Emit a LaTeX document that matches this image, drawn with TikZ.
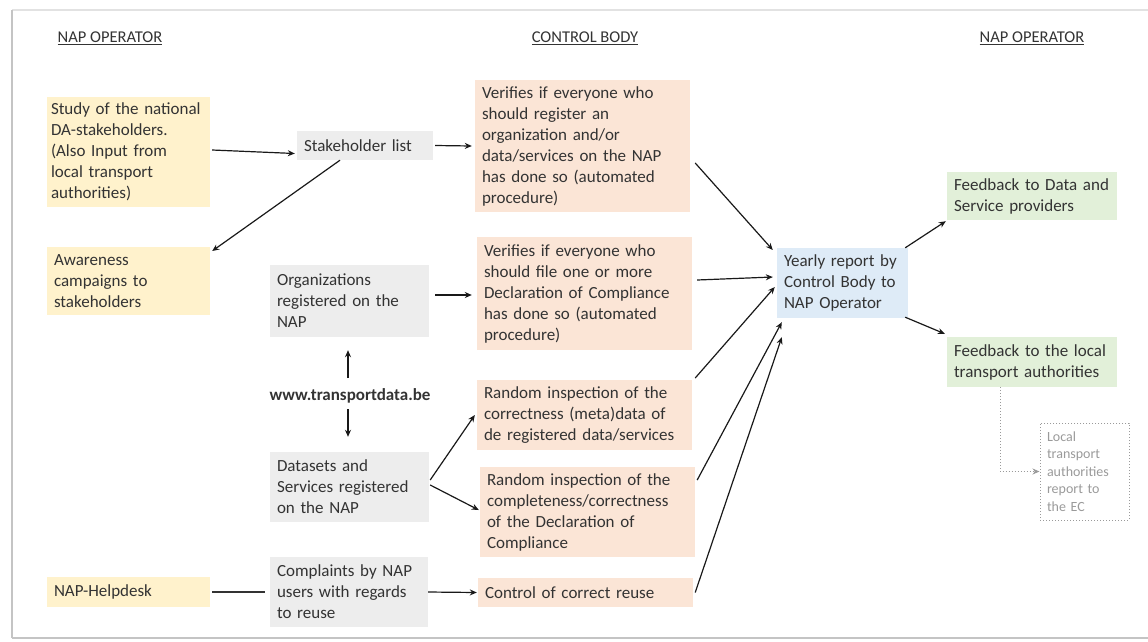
\documentclass[tikz,border=0pt]{standalone}
\usepackage{fontspec}
\setmainfont{Carlito}
\usetikzlibrary{arrows.meta}
\definecolor{yfill}{HTML}{FFF2CC}
\definecolor{ofill}{HTML}{FBE5D6}
\definecolor{gfill}{HTML}{EDEDED}
\definecolor{bfill}{HTML}{DEEBF7}
\definecolor{grfill}{HTML}{E2F0D9}
\definecolor{txt}{HTML}{333333}
\definecolor{frameA}{HTML}{C4C4C4}
\definecolor{frameB}{HTML}{E2E2E2}
\definecolor{lgrey}{HTML}{9A9A9A}
\tikzset{
  box/.style={rectangle, inner xsep=7pt, inner ysep=0pt, align=left, text=txt,
    font=\fontsize{17}{21}\selectfont},
  ybox/.style={box, fill=yfill},
  obox/.style={box, fill=ofill},
  gbox/.style={box, fill=gfill},
  bbox/.style={box, fill=bfill},
  grbox/.style={box, fill=grfill},
  hdr/.style={text=txt, font=\fontsize{16.5}{20}\selectfont},
  arr/.style={draw=black!90, line width=1.2pt, -{Stealth[length=7pt,width=6pt]}},
  plainline/.style={draw=black!80, line width=1.2pt},
  dotline/.style={draw=lgrey, line width=1pt, dotted, -{Stealth[length=7pt,width=6pt]}},
}
\begin{document}
\begin{tikzpicture}[x=1pt,y=-1pt]
\useasboundingbox (0,0) rectangle (1148,641);
% frame
\draw[frameB, line width=1.2pt] (12,10) -- (1148,10);
\draw[frameA, line width=2.5pt] (12,10) -- (12,638);
\draw[frameA, line width=1.5pt] (12,638) -- (1148,638);
% headers
\node[hdr] (h1) at (110,38) {\underline{NAP OPERATOR}};
\node[hdr] (h2) at (585,38) {\underline{CONTROL BODY}};
\node[hdr] (h3) at (1032,38) {\underline{NAP OPERATOR}};
% left column
\node[ybox, inner xsep=4pt, minimum width=163pt, minimum height=110pt, text width=155pt] (study) at (128.5,152)
  {Study of the national\\DA-stakeholders.\\(Also Input from\\local transport\\authorities)};
\node[ybox, minimum width=163pt, minimum height=68pt, text width=149pt] (aware) at (128.5,281)
  {Awareness\\campaigns to\\stakeholders};
\node[ybox, minimum width=163pt, minimum height=30pt, text width=149pt] (help) at (128.5,592)
  {NAP-Helpdesk};
% second column
\node[gbox, minimum width=136pt, minimum height=29pt, text width=122pt] (stake) at (365,145.5)
  {Stakeholder list};
\node[gbox, minimum width=159pt, minimum height=72pt, text width=145pt] (org) at (349.5,301)
  {Organizations\\registered on the\\NAP};
\node[text=txt, font=\fontsize{17}{21}\selectfont\bfseries, inner sep=0pt] (www) at (350,396)
  {www.transportdata.be};
\node[gbox, minimum width=159pt, minimum height=70pt, text width=145pt] (data) at (349.5,487)
  {Datasets and\\Services registered\\on the NAP};
\node[gbox, minimum width=158pt, minimum height=70pt, text width=144pt] (compl) at (349,592)
  {Complaints by NAP\\users with regards\\to reuse};
% control body column
\node[obox, minimum width=215pt, minimum height=132pt, text width=201pt] (v1) at (582.5,146)
  {Verifies if everyone who\\should register an\\organization and/or\\data/services on the NAP\\has done so (automated\\procedure)};
\node[obox, minimum width=215pt, minimum height=113pt, text width=201pt] (v2) at (584.5,293.5)
  {Verifies if everyone who\\should file one or more\\Declaration of Compliance\\has done so (automated\\procedure)};
\node[obox, minimum width=215pt, minimum height=70pt, text width=201pt] (r1) at (584.5,415)
  {Random inspection of the\\correctness (meta)data of\\de registered data/services};
\node[obox, minimum width=215pt, minimum height=90pt, text width=201pt] (r2) at (587.5,512)
  {Random inspection of the\\completeness/correctness\\of the Declaration of\\Compliance};
\node[obox, minimum width=215pt, minimum height=29pt, text width=201pt] (ctrl) at (585.5,592.5)
  {Control of correct reuse};
% report
\node[bbox, minimum width=131pt, minimum height=70pt, text width=117pt] (year) at (842.5,283)
  {Yearly report by\\Control Body to\\NAP Operator};
% right column
\node[grbox, minimum width=170pt, minimum height=48pt, text width=156pt] (fd) at (1032,196)
  {Feedback to Data and\\Service providers};
\node[grbox, minimum width=170pt, minimum height=50pt, text width=156pt] (fl) at (1032,362)
  {Feedback to the local\\transport authorities};
\node[rectangle, draw=lgrey, dotted, line width=1pt, minimum width=89pt, minimum height=97pt,
  text width=75pt, inner xsep=7pt, inner ysep=0pt, align=left, text=lgrey,
  font=\fontsize{14}{17.5}\selectfont] (loc) at (1084.5,471.5)
  {Local\\transport\\authorities\\report to\\the EC};
% connectors
\draw[arr] ([shift={(2,-2)}]study.east) -- ([shift={(-2,8)}]stake.west);
\draw[arr] ([shift={(-25,0)}]stake.south) -- ([shift={(2,-30)}]aware.east);
\draw[arr] ([shift={(2,0)}]stake.east) -- ([shift={(-3,0)}]v1.west);
\draw[arr] ([shift={(6,-6)}]org.east) -- ([shift={(-5,1.5)}]v2.west);
\draw[arr] ([shift={(-2,-18)}]www.center) -- ([shift={(-1.5,13)}]org.south);
\draw[arr] ([shift={(-2,13)}]www.center) -- ([shift={(-1.5,-15)}]data.north);
\draw[arr] ([shift={(1,-7)}]data.east) -- ([shift={(-2,0)}]r1.west);
\draw[arr] ([shift={(1,-2)}]data.east) -- ([shift={(-1,-2)}]r2.west);
\draw[plainline] ([shift={(2,0)}]help.east) -- ([shift={(-5,0)}]compl.west);
\draw[arr] (compl.east) -- ([shift={(-1,0)}]ctrl.west);
\draw[arr] ([shift={(5,17)}]v1.east) -- ([shift={(-4,-33)}]year.west);
\draw[arr] ([shift={(5,-13.5)}]v2.east) -- ([shift={(-4,-6)}]year.west);
\draw[arr] ([shift={(3,-37)}]r1.east) -- ([shift={(-2,4)}]year.west);
\draw[arr] ([shift={(2,-32)}]r2.east) -- ([shift={(5,4)}]year.south west);
\draw[arr] ([shift={(2,0)}]ctrl.east) -- ([shift={(5,19)}]year.south west);
\draw[arr] ([shift={(-3,0)}]year.north east) -- ([shift={(-1,1)}]fd.south west);
\draw[arr] ([shift={(-3,-1)}]year.south east) -- ([shift={(-2,-3)}]fl.north west);
\draw[dotline] ([shift={(-32,0)}]fl.south) |- (loc.west);
\end{tikzpicture}
\end{document}
